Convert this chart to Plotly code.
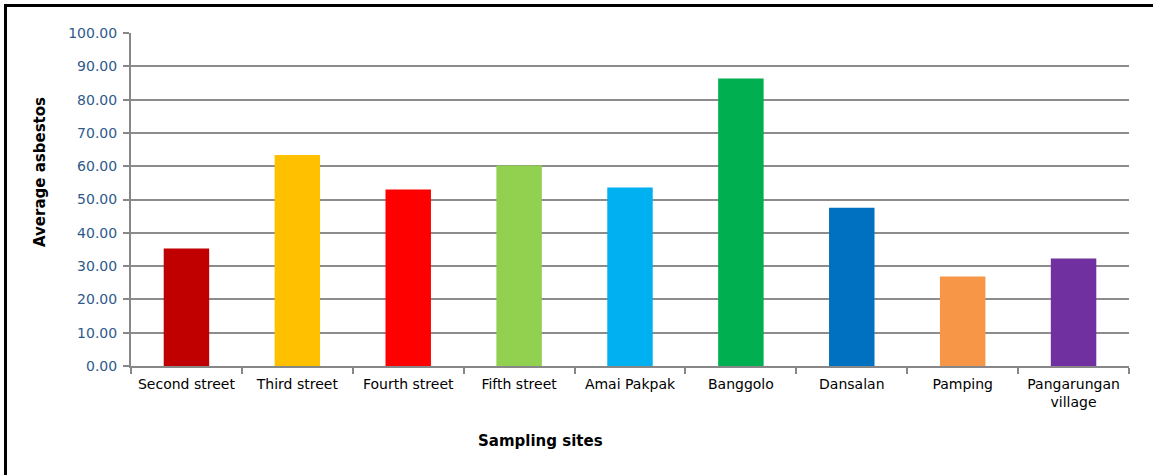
import plotly.graph_objects as go

sites = ["Second street", "Third street", "Fourth street", "Fifth street", "Amai Pakpak",
         "Banggolo", "Dansalan", "Pamping", "Pangarungan<br>village"]
avg_asbestos = [35.3, 63.4, 53.0, 60.2, 53.6, 86.3, 47.5, 26.9, 32.3]
colors = ["#C00000", "#FFC000", "#FF0000", "#92D050", "#00B0F0",
          "#00B050", "#0070C0", "#F79646", "#7030A0"]
y_ticks = [0, 10, 20, 30, 40, 50, 60, 70, 80, 90, 100]
y_tick_labels = [f"{v:.2f}" for v in y_ticks]

W, H = 1153, 475
L, R, T, B = 131, 24, 33, 109
pw, ph = W - L - R, H - T - B

def px(x):
    return (x - L) / pw

def py(y):
    return (H - B - y) / ph

fig = go.Figure(go.Bar(x=sites, y=avg_asbestos, marker=dict(color=colors, line=dict(width=0)),
                       width=0.41))

fig.update_layout(
    width=W, height=H,
    margin=dict(l=L, r=R, t=T, b=B),
    paper_bgcolor="white", plot_bgcolor="white",
    showlegend=False,
    font=dict(family="DejaVu Sans", size=14, color="black"),
    xaxis=dict(showline=True, linecolor="#878787", linewidth=2, ticks="outside",
               tickson="boundaries", ticklen=6, tickcolor="#878787", tickwidth=2,
               ticklabelstandoff=4,
               showgrid=False, tickfont=dict(size=14, color="black")),
    yaxis=dict(range=[0, 100], tickvals=y_ticks, ticktext=y_tick_labels,
               showline=True, linecolor="#878787", linewidth=2, ticks="outside",
               ticklen=6, tickcolor="#878787", tickwidth=2, ticklabelstandoff=3,
               showgrid=True, gridcolor="#8C8C8C", gridwidth=2, zeroline=False,
               tickfont=dict(size=14, color="#2E5A8C")),
    shapes=[dict(type="rect", xref="paper", yref="paper",
                 x0=px(5.5), x1=px(1165), y0=py(485), y1=py(5.5),
                 line=dict(color="black", width=3), fillcolor="rgba(0,0,0,0)", layer="above")],
    annotations=[
        dict(text="<b>Average asbestos</b>", textangle=-90, xref="paper", yref="paper",
             x=px(40), y=py(172), showarrow=False, font=dict(size=15, color="black"),
             xanchor="center", yanchor="middle"),
        dict(text="<b>Sampling sites</b>", xref="paper", yref="paper",
             x=px(540), y=py(441), showarrow=False, font=dict(size=15, color="black"),
             xanchor="center", yanchor="middle"),
    ],
)

fig.write_html("out.html")
